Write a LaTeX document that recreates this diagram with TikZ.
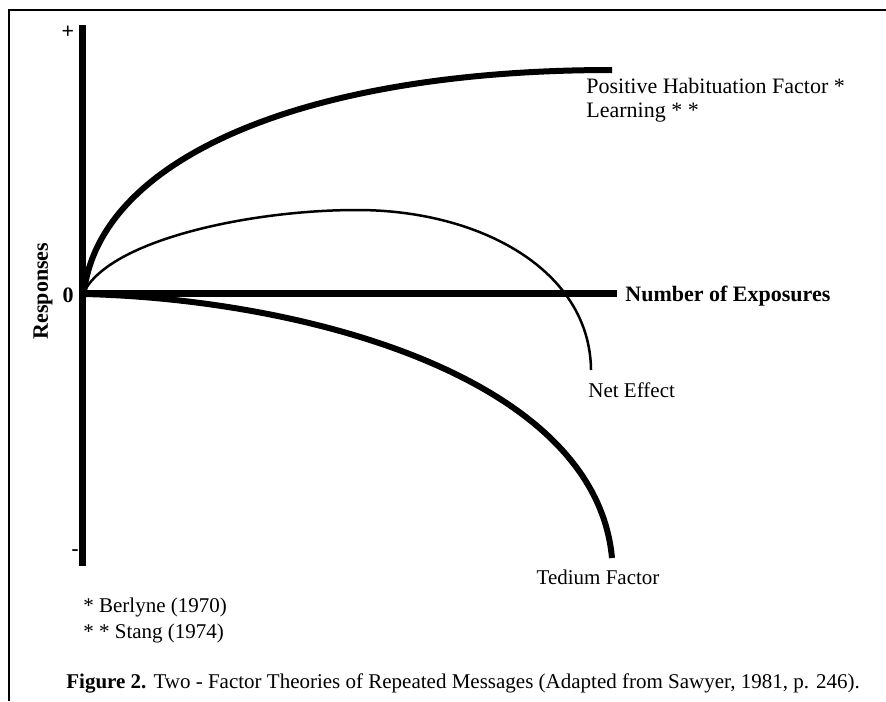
\documentclass[tikz,border=0pt]{standalone}
\usepackage{fontspec}
\setmainfont{Liberation Serif}
\usepackage{tikz}

\begin{document}
\begin{tikzpicture}[x=0.5pt,y=-0.5pt,
	axisline/.style={line width=3.5pt},
	thickcurve/.style={line width=3pt},
	thincurve/.style={line width=1.25pt},
	lbl/.style={inner sep=0pt,font=\fontsize{10.5}{12}\selectfont},
	biglbl/.style={inner sep=0pt,font=\fontsize{11}{12}\selectfont}]
	\useasboundingbox (0,0) rectangle (886,701);
	\draw[line width=1.2pt] (9,701) -- (9,10) -- (886,10);

	\coordinate (O) at (82,293);
	\coordinate (ytop) at (82,25);
	\coordinate (ybot) at (82,566);
	\coordinate (xend) at (617,293);
	\draw[axisline] (ytop) -- (ybot);
	\draw[axisline] (O) -- (xend);

	\node[biglbl] at (68,32) (plus) {\textbf{+}};
	\node[biglbl] at (68,295) (zero) {\textbf{0}};
	\node[lbl] at (75,553) (minus) {\textbf{-}};
	\node[biglbl, rotate=90] at (43,291) (resp) {\textbf{Responses}};
	\node[biglbl, anchor=west] at (625,296) (expo) {\textbf{Number of Exposures}};

	\coordinate (posend) at (612,70);
	\coordinate (netpeak) at (357,210);
	\coordinate (netend) at (591,370);
	\coordinate (tedend) at (612,558);
	\draw[thickcurve] (84,292) .. controls (100,160) and (300,70) .. (posend);
	\draw[thincurve] (84,292) .. controls (110,240) and (250,210) .. (netpeak)
		.. controls (480,210) and (590,270) .. (netend);
	\draw[thickcurve] (84,294) .. controls (300,299) and (595,375) .. (tedend);

	\node[biglbl, anchor=west, align=left] at (586,100) (pos) {Positive Habituation Factor *\\Learning * *};
	\node[lbl, anchor=west] at (588,390) (net) {Net Effect};
	\node[lbl] at (598,577) (tedium) {Tedium Factor};

	\node[lbl, anchor=west] at (83,607) (berlyne) {* Berlyne (1970)};
	\node[lbl, anchor=west] at (83,633) (stang) {* * Stang (1974)};
	\node[lbl, anchor=west] at (66,683) (caption) {\textbf{Figure 2.} Two - Factor Theories of Repeated Messages (Adapted from Sawyer, 1981, p. 246).};
\end{tikzpicture}
\end{document}
